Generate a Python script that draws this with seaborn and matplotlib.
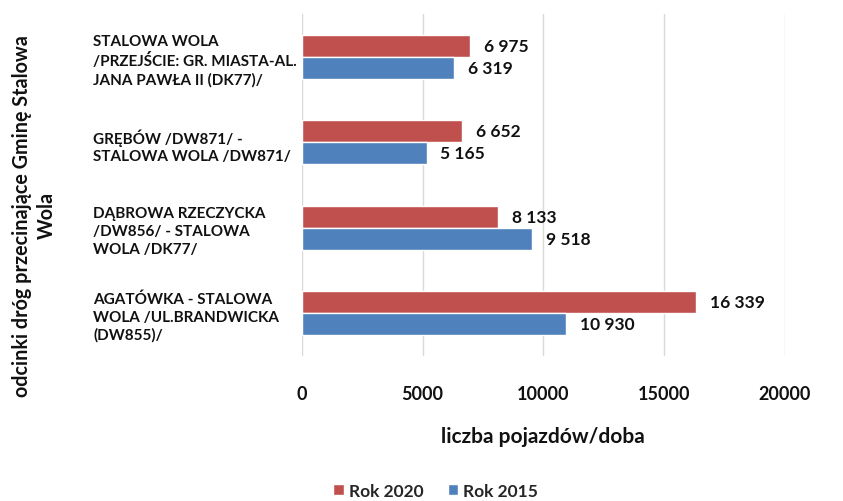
import matplotlib
matplotlib.use("Agg")
import matplotlib.pyplot as plt
import seaborn as sns
import pandas as pd
from matplotlib.patches import Patch

categories = [
    "STALOWA WOLA\n/PRZEJŚCIE: GR. MIASTA-AL.\nJANA PAWŁA II (DK77)/",
    "GRĘBÓW /DW871/ -\nSTALOWA WOLA /DW871/",
    "DĄBROWA RZECZYCKA\n/DW856/ - STALOWA\nWOLA /DK77/",
    "AGATÓWKA - STALOWA\nWOLA /UL.BRANDWICKA\n(DW855)/",
]
series_names = ["Rok 2020", "Rok 2015"]
values_2020 = [6975, 6652, 8133, 16339]
values_2015 = [6319, 5165, 9518, 10930]
x_ticks = [0, 5000, 10000, 15000, 20000]
colors = ["#C0504D", "#4F81BD"]

sns.set_theme(style="white")
plt.rcParams["font.family"] = ["Lato", "DejaVu Sans"]
plt.rcParams["font.weight"] = "bold"

df = pd.DataFrame({
    "cat": categories * 2,
    "rok": [series_names[0]] * 4 + [series_names[1]] * 4,
    "val": values_2020 + values_2015,
})

fig = plt.figure(figsize=(8.43, 5.02), dpi=100)
ax = fig.add_axes([0.358, 0.289, 0.573, 0.681])

sns.barplot(data=df, y="cat", x="val", hue="rok", order=categories,
            hue_order=series_names, palette=colors, width=0.52,
            orient="h", ax=ax, legend=False, saturation=1)

ax.set_xlim(0, 20000)
ax.set_ylim(3.5, -0.5)
ax.set_xticks(x_ticks)
ax.set_xticklabels([str(t) for t in x_ticks], fontsize=13, fontweight="bold", color="#111111")
ax.grid(axis="x", color="#d9d9d9", linewidth=1)
ax.set_axisbelow(True)
for s in ax.spines.values():
    s.set_visible(False)
ax.tick_params(axis="x", length=0, pad=21)
ax.tick_params(axis="y", length=0, pad=150)
for lab in ax.get_yticklabels():
    lab.set_ha("left")
    lab.set_fontsize(11)
    lab.set_fontweight("bold")
    lab.set_linespacing(1.33)
    lab.set_color("#111111")

for cont in ax.containers:
    labels = [f"{int(v):,}".replace(",", " ") for v in cont.datavalues]
    ax.bar_label(cont, labels=labels, padding=10, fontsize=12.5,
                 fontweight="bold", color="#111111")

ax.set_ylabel("")
ax.set_xlabel("liczba pojazdów/doba", fontsize=15, fontweight="bold",
              labelpad=17, color="#111111")

fig.text(0.041, 0.57, "odcinki dróg przecinające Gminę Stalowa\nWola",
         rotation=90, ha="center", va="center", fontsize=14.2,
         fontweight="bold", color="#111111", multialignment="center",
         linespacing=1.3)

handles = [Patch(facecolor=c, label=n) for c, n in zip(colors, series_names)]
fig.legend(handles=handles, loc="center", bbox_to_anchor=(0.517, 0.02),
           ncol=2, frameon=False, fontsize=12.5, handlelength=0.6,
           handleheight=0.6, handletextpad=0.3, columnspacing=1.4,
           borderpad=0.1)

fig.savefig("out.png", dpi=100)
